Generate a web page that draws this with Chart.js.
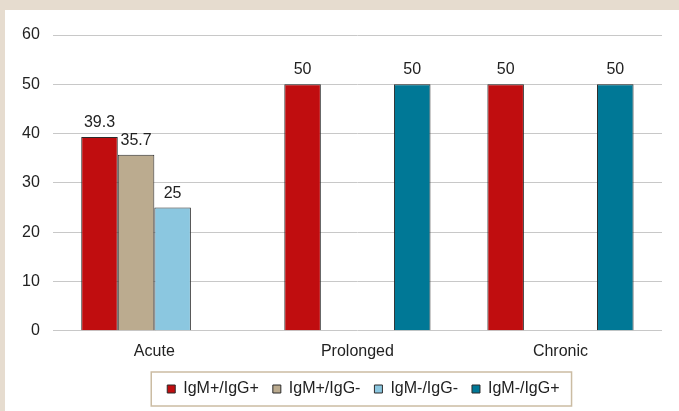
<!DOCTYPE html>
<html>
<head>
<meta charset="utf-8">
<script src="https://cdn.jsdelivr.net/npm/chart.js@4/dist/chart.umd.min.js"></script>
<style>
    html, body { margin: 0; padding: 0; background: #e6dccf; }
    #wrap { position: absolute; left: 5px; top: 10px; width: 674px; height: 401px; background: #fff; }
</style>
</head>
<body>
<div id="wrap"><canvas id="serologyChart"></canvas></div>
<script>
// 数据
const categories = ['Acute', 'Prolonged', 'Chronic'];
const seriesNames = ['IgM+/IgG+', 'IgM+/IgG-', 'IgM-/IgG-', 'IgM-/IgG+'];
const igmPosIggPos = [39.3, 50, 50];
const igmPosIggNeg = [35.7, null, null];
const igmNegIggNeg = [25, null, null];
const igmNegIggPos = [null, 50, 50];
const yTicks = [0, 10, 20, 30, 40, 50, 60];

const colors = ['#c00d0f', '#bbab8f', '#8bc7e0', '#007896'];
const seriesValues = [igmPosIggPos, igmPosIggNeg, igmNegIggNeg, igmNegIggPos];
const FONT = '"Liberation Sans", Arial, sans-serif';

// ========== 柱顶数值 ==========
const valueLabels = {
    id: 'valueLabels',
    afterDatasetsDraw(chart) {
        const ctx = chart.ctx;
        ctx.save();
        ctx.font = '16px ' + FONT;
        ctx.fillStyle = '#222';
        ctx.textAlign = 'center';
        ctx.textBaseline = 'alphabetic';
        chart.data.datasets.forEach((ds, i) => {
            chart.getDatasetMeta(i).data.forEach((bar, j) => {
                const v = ds.data[j];
                if (v == null) return;
                ctx.fillText(String(v), bar.x, bar.y - 10);
            });
        });
        ctx.restore();
    }
};

// ========== 图例边框 ==========
const legendFrame = {
    id: 'legendFrame',
    afterLayout(chart) {
        // 图例略偏右
        if (chart.legend) { chart.legend.left += 6; chart.legend.right += 6; }
    },
    afterDraw(chart) {
        const boxes = chart.legend && chart.legend.legendHitBoxes;
        if (!boxes || !boxes.length) return;
        const left = Math.min(...boxes.map(b => b.left)) - 16;
        const right = Math.max(...boxes.map(b => b.left + b.width)) + 12;
        const mid = boxes[0].top + boxes[0].height / 2;
        const ctx = chart.ctx;
        ctx.save();
        ctx.strokeStyle = '#cbbca3';
        ctx.lineWidth = 1.5;
        ctx.strokeRect(left, mid - 17, right - left, 34);
        ctx.restore();
    }
};

const ctx = document.getElementById('serologyChart').getContext('2d');
new Chart(ctx, {
    type: 'bar',
    data: {
        labels: categories,
        datasets: seriesValues.map((vals, i) => ({
            label: seriesNames[i],
            data: vals,
            backgroundColor: colors[i],
            borderColor: '#2b2b2b',
            borderWidth: 1,
            categoryPercentage: 0.72,
            barPercentage: 1
        }))
    },
    options: {
        responsive: true,
        maintainAspectRatio: false,
        animation: false,
        layout: { padding: { left: 4, right: 17, top: 25, bottom: 4 } },
        scales: {
            y: {
                min: 0,
                max: 60,
                afterBuildTicks: axis => { axis.ticks = yTicks.map(v => ({ value: v })); },
                grid: { color: '#c8c8c8', lineWidth: 1, drawTicks: false },
                border: { display: false },
                ticks: { padding: 13, color: '#222', font: { size: 16, family: FONT } }
            },
            x: {
                afterFit: axis => { axis.height -= 5; },
                grid: { display: false, drawTicks: false },
                border: { display: false },
                ticks: { padding: 11, color: '#222', font: { size: 16, family: FONT } }
            }
        },
        plugins: {
            legend: {
                position: 'bottom',
                fullSize: false,
                labels: {
                    boxWidth: 8,
                    boxHeight: 8,
                    padding: 14,
                    color: '#222',
                    font: { size: 16, family: FONT }
                }
            },
            tooltip: { enabled: false }
        }
    },
    plugins: [valueLabels, legendFrame]
});
</script>
</body>
</html>
